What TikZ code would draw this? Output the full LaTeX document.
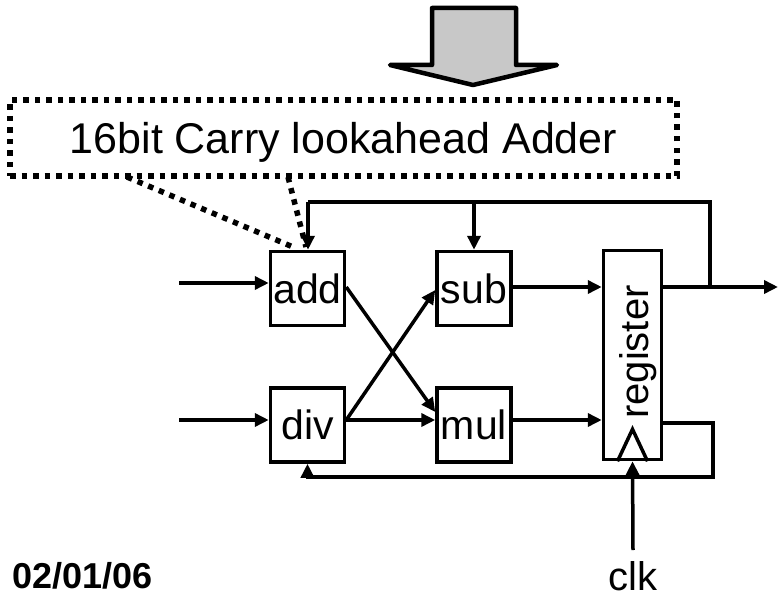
\documentclass[tikz,border=0pt]{standalone}
\usepackage{fontspec}
\setmainfont{Liberation Sans}
\usetikzlibrary{arrows.meta,calc}
\definecolor{arrowgray}{RGB}{200,200,200}
\begin{document}
\begin{tikzpicture}[x=1pt,y=-1pt,
  blk/.style={draw,line width=3.5pt,minimum width=74pt,minimum height=74pt,inner sep=0pt,
              font=\fontsize{41}{41}\selectfont},
  wire/.style={line width=3.5pt},
  arr/.style={wire,-{Triangle[length=14pt,width=13pt]}},
  dots/.style={line width=5.5pt,dash pattern=on 5.5pt off 6pt},
]
\useasboundingbox (0,0) rectangle (779,599);

% big down arrow
\draw[line width=4.5pt,fill=arrowgray,line join=round]
  (432,8) -- (516,8) -- (516,65) -- (557,65) -- (473,85) -- (390,65) -- (432,65) -- cycle;

% annotation box
\node[draw,dots,minimum width=667pt,minimum height=76pt,inner sep=0pt,
      text height=31pt,text depth=0pt,font=\fontsize{43}{43}\selectfont]
  (lab) at (343.5,138) {16bit Carry lookahead Adder};

% blocks
\node[blk] (add) at (307.5,288.5) {add};
\node[blk] (sub) at (474,288.5) {sub};
\node[blk] (div) at (307.5,425) {div};
\node[blk] (mul) at (474,425) {mul};
\node[draw,line width=3.5pt,minimum width=58pt,minimum height=209pt,inner sep=0pt] (reg) at (632.5,355) {};
\node[rotate=90,font=\fontsize{40}{40}\selectfont] (regtxt) at (638,352) {register};

% clock triangle
\draw[wire,line join=miter] ($(reg.south)+(-15,0)$) -- ($(reg.south)+(0,-32)$) -- ($(reg.south)+(15,0)$);

% dotted pointers
\coordinate (d1s) at (127,177);
\coordinate (d1e) at (293,247);
\coordinate (d2s) at (288,177);
\coordinate (d2e) at (306,247);
\draw[dots] (d1s) -- (d1e);
\draw[dots] (d2s) -- (d2e);

% inputs
\coordinate (in1) at (179,283);
\coordinate (in2) at (179,420);
\draw[arr] (in1) -- (in1 -| add.west);
\draw[arr] (in2) -- (in2 -| div.west);

% crossing and straight paths
\draw[arr] ($(add.east)+(0,-1.5)$) -- ($(mul.west)+(0,-13)$);
\draw[arr] ($(div.east)+(0,-5)$) -- ($(sub.west)+(0,1.5)$);
\draw[arr] ($(div.east)+(0,-5)$) -- ($(mul.west)+(0,-5)$);
\draw[arr] ($(sub.east)+(0,-1.5)$) -- ($(reg.west)+(0,-68)$);
\draw[arr] ($(mul.east)+(0,-5)$) -- ($(reg.west)+(0,65)$);

% output and feedback
\coordinate (out) at (778,287);
\coordinate (j) at (710,287);
\coordinate (tl) at (308,202);
\draw[arr] ($(reg.east)+(0,-68)$) -- (out);
\draw[wire] (j) |- (tl);
\draw[arr] (tl) -- (tl |- add.north);
\draw[arr] (sub.north |- tl) -- (sub.north);

% register loop back to div
\coordinate (lp) at (713,477);
\draw[arr] ($(reg.east)+(0,68)$) -| (lp) -| (div.south);

% clock input
\coordinate (clkin) at (633,550);
\draw[arr] (clkin) -- (reg.south);
\node[anchor=base,inner sep=0pt,font=\fontsize{40}{40}\selectfont] (clk) at (633,590) {clk};

% date
\node[anchor=base west,inner sep=0pt,font=\bfseries\fontsize{36}{36}\selectfont] (date) at (12,588) {02/01/06};
\end{tikzpicture}
\end{document}
